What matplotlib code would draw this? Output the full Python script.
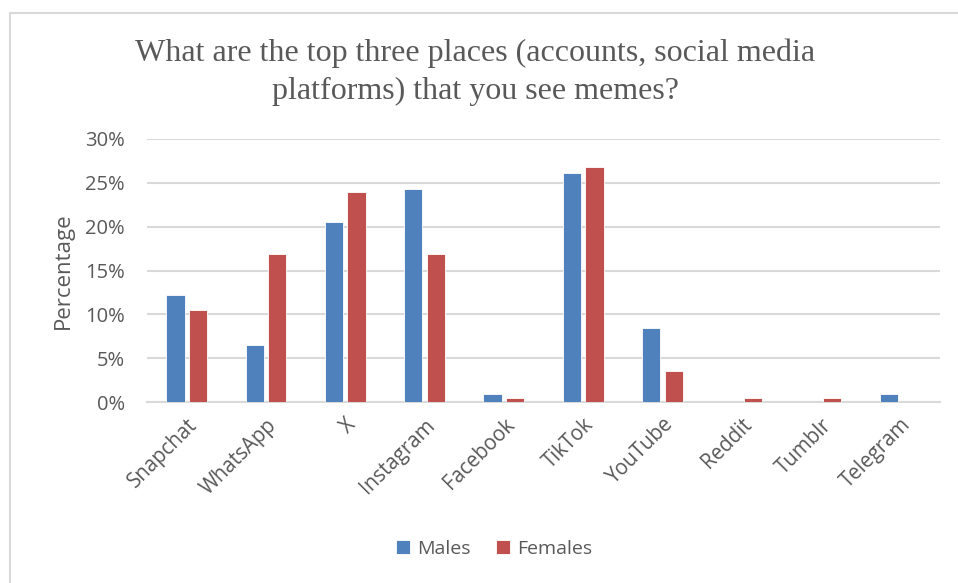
import numpy as np
import matplotlib.pyplot as plt
from matplotlib.patches import Rectangle
from matplotlib.ticker import PercentFormatter

# datos
plataformas = ['Snapchat', 'WhatsApp', 'X', 'Instagram', 'Facebook',
               'TikTok', 'YouTube', 'Reddit', 'Tumblr', 'Telegram']
hombres = [12.2, 6.5, 20.5, 24.3, 0.95, 26.1, 8.4, 0.0, 0.0, 0.95]
mujeres = [10.45, 16.9, 23.9, 16.9, 0.5, 26.8, 3.5, 0.5, 0.5, 0.0]
yticks = [0, 5, 10, 15, 20, 25, 30]

azul = '#4f81bd'
rojo = '#c0504d'
gris_texto = '#595959'
gris_linea = '#d9d9d9'

fig = plt.figure(figsize=(9.58, 5.83), dpi=100)
ax = fig.add_axes([147/958, 1-402/583, (940-147)/958, (402-139)/583])

# borde del area del grafico
fig.patches.append(Rectangle((10/958, -0.1), 1.2, 1-13/583+0.1, transform=fig.transFigure,
                             fill=False, edgecolor=gris_linea, linewidth=1.5))

x = np.arange(len(plataformas))
ancho = 0.23
ax.bar(x - 0.142, hombres, ancho, color=azul, edgecolor='white', linewidth=0.6, label='Males', zorder=3)
ax.bar(x + 0.142, mujeres, ancho, color=rojo, edgecolor='white', linewidth=0.6, label='Females', zorder=3)

ax.set_xlim(-0.5, len(plataformas) - 0.5)
ax.set_ylim(0, 30)
ax.set_yticks(yticks)
ax.yaxis.set_major_formatter(PercentFormatter(decimals=0))
ax.grid(axis='y', color=gris_linea, linewidth=1.5, zorder=0)
for s in ['top', 'right', 'left']:
    ax.spines[s].set_visible(False)
ax.spines['bottom'].set_color(gris_linea)
ax.spines['bottom'].set_linewidth(1.5)
ax.tick_params(axis='both', length=0, colors=gris_texto)
ax.tick_params(axis='y', pad=16, labelsize=14.5)
ax.tick_params(axis='x', pad=9, labelsize=14.8)
ax.set_xticks(x)
ax.set_xticklabels(plataformas, rotation=45, ha='right', rotation_mode='anchor',
                   fontfamily='Open Sans')
for t in ax.get_yticklabels():
    t.set_fontfamily('Open Sans')

ax.set_ylabel('Percentage', fontsize=16, color=gris_texto, fontfamily='Open Sans', labelpad=8)

fig.text(475/958, 1 - 72/583,
         'What are the top three places (accounts, social media\nplatforms) that you see memes?',
         ha='center', va='center', fontsize=23, color=gris_texto,
         fontfamily='Liberation Serif', linespacing=1.42)

leg = ax.legend(loc='center', bbox_to_anchor=(494/958, 1-549/583), bbox_transform=fig.transFigure,
                ncol=2, frameon=False, handlelength=0.75, handleheight=0.75, handletextpad=0.35,
                columnspacing=1.3, prop={'family': 'Open Sans', 'size': 14})
for t in leg.get_texts():
    t.set_color(gris_texto)

fig.savefig('out.png', dpi=100)
